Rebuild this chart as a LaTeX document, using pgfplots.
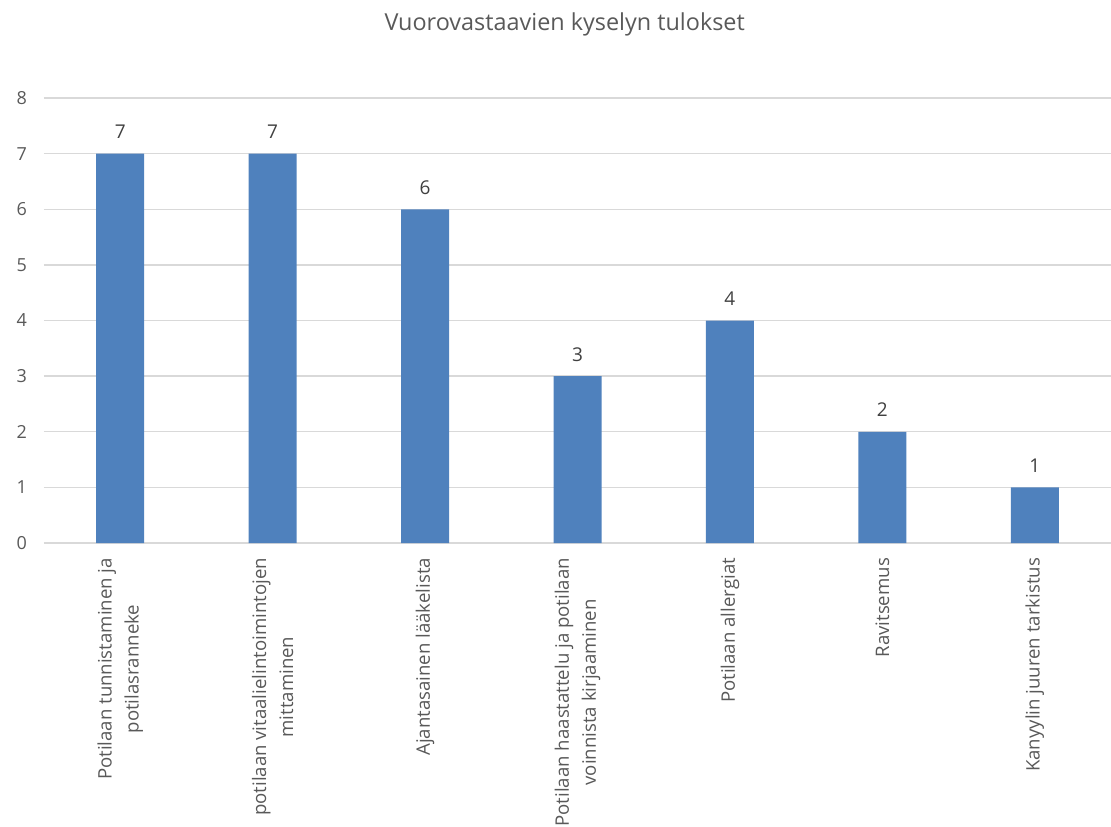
\documentclass[border=0pt]{standalone}
\usepackage{pgfplots}
\pgfplotsset{compat=1.18}
\usepackage{fontspec}
\setmainfont{Open Sans}
\definecolor{barblue}{HTML}{4F81BD}
\definecolor{gridgray}{HTML}{D9D9D9}
\definecolor{txtgray}{HTML}{595959}
\definecolor{lblgray}{HTML}{404040}
\begin{document}
\begin{tikzpicture}
\useasboundingbox (-22pt,-141.5pt) rectangle (533.5pt,271.5pt);
\begin{axis}[
  at={(0,0)}, anchor=south west,
  scale only axis,
  width=533.5pt, height=222.5pt,
  xmin=-0.5, xmax=6.5,
  ymin=0, ymax=8,
  ytick={0,1,...,8},
  xtick=data,
  xticklabels={
    {Potilaan tunnistaminen ja\\potilasranneke},
    {potilaan vitaalielintoimintojen\\mittaminen},
    {Ajantasainen lääkelista},
    {Potilaan haastattelu ja potilaan\\voinnista kirjaaminen},
    {Potilaan allergiat},
    {Ravitsemus},
    {Kanyylin juuren tarkistus}},
  x tick label style={rotate=90, anchor=east, align=center,
    font=\fontsize{9.3}{13.5}\selectfont, text=txtgray, xshift=-4pt},
  y tick label style={font=\fontsize{9}{10}\selectfont, text=txtgray, xshift=-5pt},
  /pgf/number format/assume math mode=true,
  major tick length=0pt,
  axis line style={draw=none},
  ymajorgrids,
  grid style={gridgray, line width=0.7pt},
  extra y ticks={0},
  extra y tick labels={},
  extra y tick style={grid style={gridgray, line width=0.9pt}},
  ybar,
  bar width=24pt,
  nodes near coords,
  every node near coord/.append style={font=\fontsize{9.5}{10}\selectfont, text=lblgray, anchor=base, yshift=7.5pt},
  title={Vuorovastaavien kyselyn tulokset},
  title style={at={(rel axis cs:0.488,1)}, anchor=center, yshift=31pt,
    font=\fontsize{11.7}{13}\selectfont, text=txtgray},
  clip=false,
]
\addplot[fill=barblue, draw=none] coordinates {
  (0,7) (1,7) (2,6) (3,3) (4,4) (5,2) (6,1)
};
\end{axis}
\end{tikzpicture}
\end{document}
